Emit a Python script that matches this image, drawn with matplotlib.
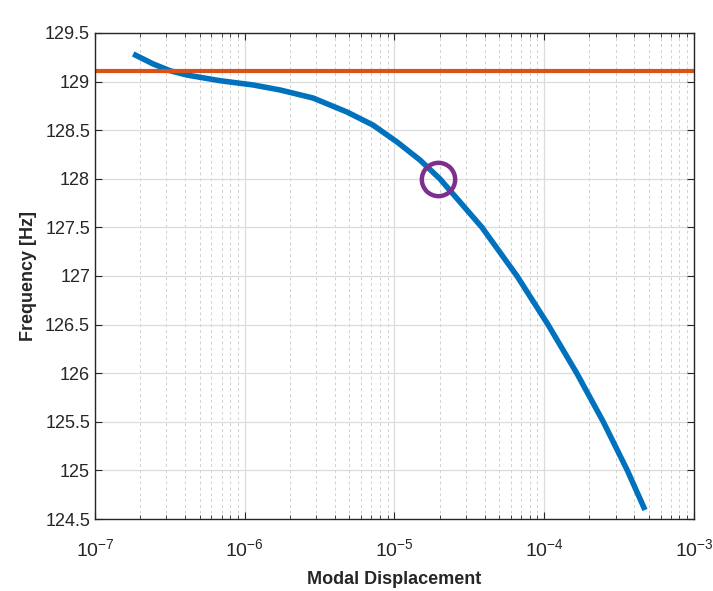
import numpy as np
import matplotlib.pyplot as plt
from matplotlib.ticker import LogLocator, FixedLocator

plt.rcParams["font.family"] = ["Liberation Sans", "DejaVu Sans"]
plt.rcParams["mathtext.fontset"] = "custom"
plt.rcParams["mathtext.rm"] = "Liberation Sans"
plt.rcParams["mathtext.it"] = "Liberation Sans"
plt.rcParams["axes.unicode_minus"] = False

# backbone curve
displacement = [1.80e-7, 2.45e-7, 3.17e-7, 4.09e-7, 6.84e-7, 1.14e-6, 1.72e-6,
                2.86e-6, 4.82e-6, 7.18e-6, 1.04e-5, 1.48e-5, 2.01e-5, 3.84e-5,
                6.58e-5, 1.06e-4, 1.65e-4, 2.48e-4, 3.59e-4, 4.71e-4]
frequency = [129.284, 129.181, 129.112, 129.068, 129.009, 128.965, 128.914,
             128.831, 128.687, 128.553, 128.379, 128.193, 128.0, 127.5,
             127.0, 126.5, 126.0, 125.5, 125.0, 124.593]

linear_freq = 129.11
marker_x = 1.95e-5
marker_y = 128.0

yticks = [124.5, 125, 125.5, 126, 126.5, 127, 127.5, 128, 128.5, 129, 129.5]

fig = plt.figure(figsize=(7.13, 5.91), dpi=100)
ax = fig.add_axes([0.1332, 0.1218, 0.8401, 0.8224])

ax.plot(displacement, frequency, color="#0072BD", linewidth=4.0,
        solid_joinstyle="round", solid_capstyle="butt")
ax.axhline(linear_freq, color="#D95319", linewidth=3)
ax.plot([marker_x], [marker_y], "o", markersize=24, markerfacecolor="none",
        markeredgecolor="#7E2F8E", markeredgewidth=3.2)

ax.set_xscale("log")
ax.set_xlim(1e-7, 1e-3)
ax.set_ylim(124.5, 129.5)
ax.xaxis.set_major_locator(LogLocator(base=10, numticks=10))
ax.xaxis.set_minor_locator(LogLocator(base=10, subs=np.arange(2, 10), numticks=20))
ax.yaxis.set_major_locator(FixedLocator(yticks))
ax.set_yticklabels([f"{v:g}" for v in yticks])

ax.grid(True, which="major", color="#dcdcdc", linewidth=0.9)
ax.grid(True, which="minor", axis="x", color="#d0d0d0", linestyle=(0, (3, 3)), linewidth=0.7)
ax.set_axisbelow(True)

ax.tick_params(which="both", direction="in", top=True, right=True, colors="#262626",
               labelcolor="#262626", labelsize=13)
ax.tick_params(which="major", length=5)
ax.tick_params(which="minor", length=3)
ax.tick_params(axis="x", which="major", pad=14, labelsize=14)
for s in ax.spines.values():
    s.set_color("#262626")
    s.set_linewidth(1.0)

ax.set_xlabel("Modal Displacement", fontsize=13, fontweight="bold", color="#262626", labelpad=8)
ax.set_ylabel("Frequency [Hz]", fontsize=13, fontweight="bold", color="#262626", labelpad=6)

fig.savefig("out.png", dpi=100)
